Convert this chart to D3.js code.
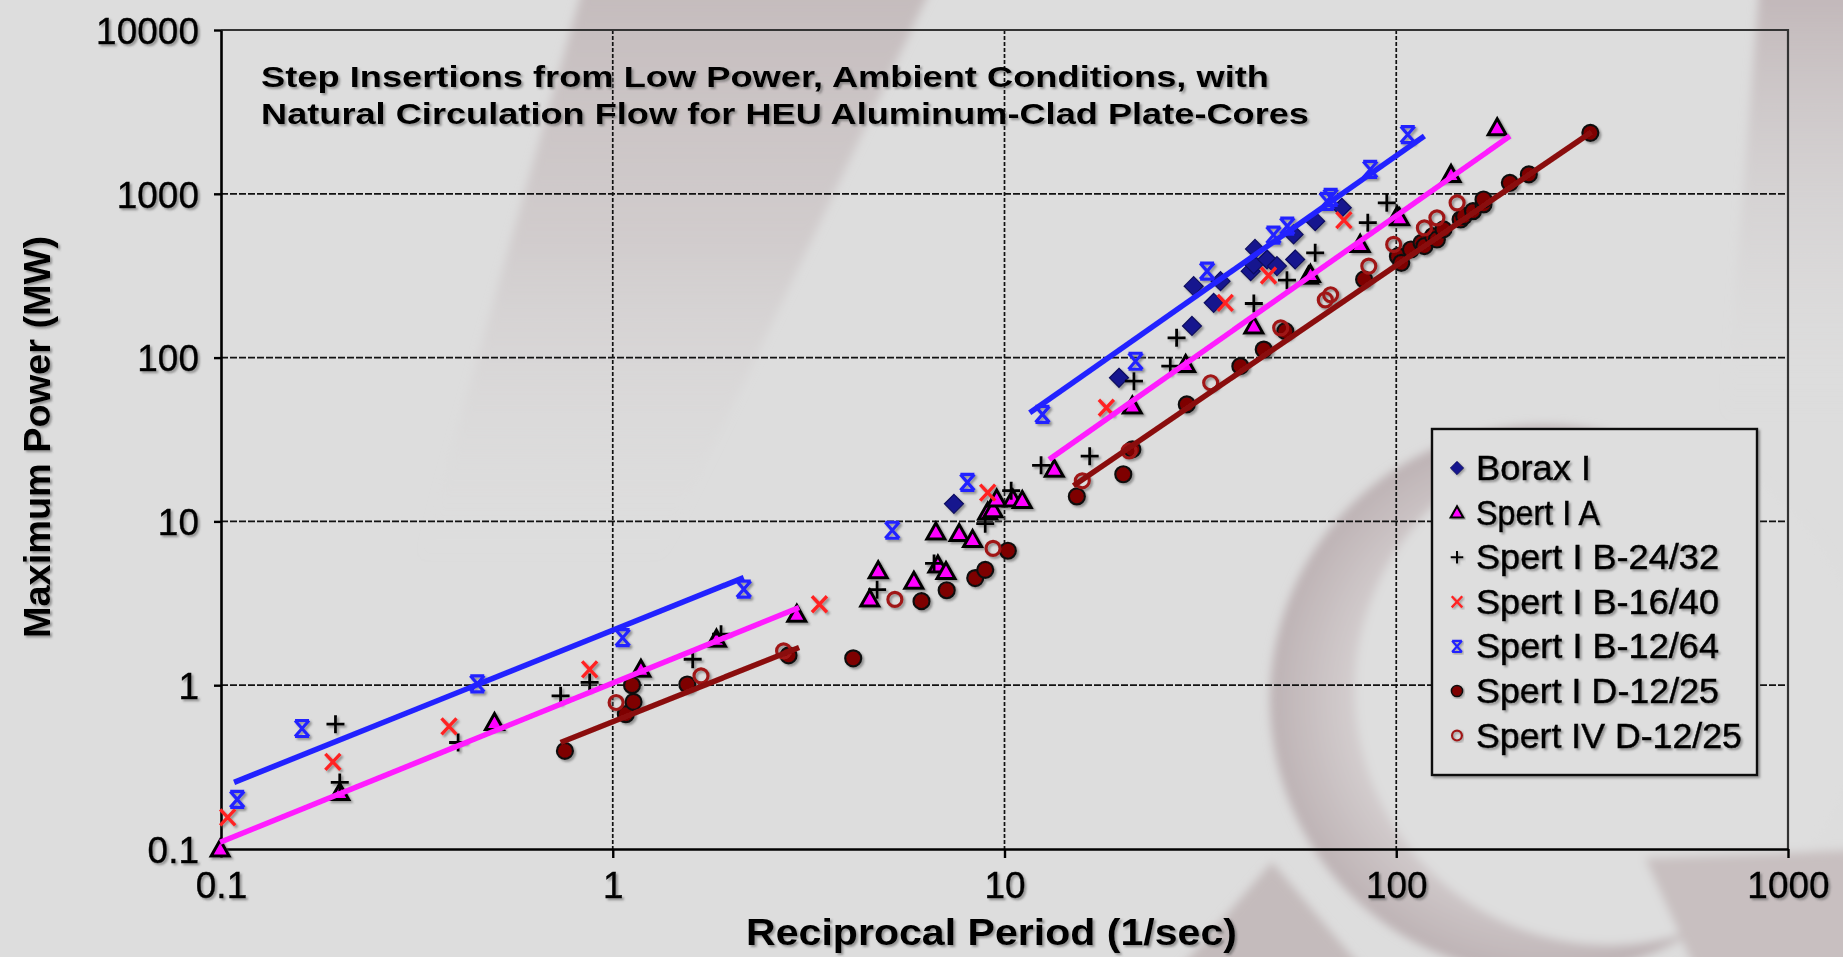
<!DOCTYPE html>
<html>
<head>
<meta charset="utf-8">
<script src="https://cdn.jsdelivr.net/npm/d3@7"></script>
<style>
html,body{margin:0;padding:0;background:#dddddd;overflow:hidden;}
svg{display:block;}
text{font-family:'Liberation Sans',Arial,sans-serif;}
</style>
</head>
<body>
<svg id="chart" width="1843" height="957"></svg>
<script>
// ---------------- data (reciprocal period 1/s, maximum power MW) ----------------
const xTicks = [0.1, 1, 10, 100, 1000];
const xTickLabels = ["0.1", "1", "10", "100", "1000"];
const yTicks = [0.1, 1, 10, 100, 1000, 10000];
const yTickLabels = ["0.1", "1", "10", "100", "1000", "10000"];

const seriesNames = ["Borax I", "Spert I A", "Spert I B-24/32", "Spert I B-16/40",
                     "Spert I B-12/64", "Spert I D-12/25", "Spert IV D-12/25"];

const boraxI = [[7.43,12.8],[19.6,75.3],[30.1,156],[34.2,216],[30.4,273],[35.6,293],[42.5,337],
  [43.3,371],[46.8,397],[49.6,362],[43.6,461],[55.2,397],[54.7,565],[62.1,681],[72.6,822]];

const spertIA = [[0.0995,0.1],[0.201,0.221],[0.499,0.592],[1.18,1.25],[1.84,1.91],[2.95,2.71],
  [4.76,4.99],[4.53,3.36],[5.87,4.31],[6.68,8.62],[6.76,5.42],[7.09,4.94],[7.66,8.43],[8.29,7.74],
  [9.06,11.4],[9.35,11.8],[9.55,13.7],[10.5,13.7],[11.1,13.4],[13.4,20.8],[21.2,50.6],[29.0,90.8],
  [43.3,156],[59.7,314],[60.4,322],[80.9,491],[100.6,731],[102,713],[138,1313],[181,2529]];

const spertIB2432 = [[0.196,0.578],[0.201,0.255],[0.403,0.447],[0.736,0.861],[0.873,1.04],[1.60,1.44],
  [1.89,2.05],[4.73,3.83],[6.61,5.54],[8.93,9.68],[10.4,15.4],[12.4,22.0],[16.5,25.0],[21.4,71.8],
  [26.5,88.7],[27.5,132],[43.3,214],[52.6,297],[62.1,436],[84.6,666],[94.6,881]];

const spertIB1640 = [[0.104,0.156],[0.193,0.34],[0.382,0.56],[0.873,1.25],[3.37,3.12],[9.06,15.0],
  [18.2,49.4],[36.6,216],[47.2,317],[73.5,690]];

const spertIB1264 = [[0.110,0.201],[0.161,0.544],[0.451,1.02],[1.06,1.95],[2.16,3.86],[5.17,8.83],
  [8.04,17.3],[12.5,45],[21.6,95],[32.9,337],[48.6,560],[52.7,635],[66.5,900],[68,950],[85.8,1408],[107,2300]];

const spertID1225 = [[0.755,0.397],[1.08,0.665],[1.13,0.791],[1.12,1.0],[1.55,1.01],[2.81,1.52],[4.11,1.46],
  [6.14,3.26],[7.12,3.80],[8.42,4.51],[8.93,5.06],[10.2,6.62],[15.3,14.2],[20.1,19.4],[21.2,27.5],
  [29.2,51.8],[40.0,88.7],[45.9,112],[52.1,145],[82.8,300],[101,416],[103,379],[109,457],[116,502],
  [118,479],[124,552],[127,526],[132,606],[146,697],[149,731],[157,783],[167,861],[167,923],[195,1167],
  [218,1313],[313,2355]];

const spertIVD1225 = [[1.02,0.784],[1.68,1.14],[2.73,1.62],[5.25,3.34],[9.35,6.84],[15.8,17.7],[20.8,26.9],
  [33.6,70.2],[50.7,152],[65.9,225],[68.0,242],[85.1,362],[98.5,491],[118,619],[127,713],[143,881]];

// fitted trend lines (two segments each)
const fitB1264 = [[[0.108,0.255],[2.16,4.54]], [[11.6,46],[118,2250]]];
const fitIA    = [[[0.0995,0.11],[2.99,2.98]], [[13.0,23.9],[195,2250]]];
const fitID    = [[[0.736,0.447],[2.99,1.70]], [[15.0,16.5],[315,2380]]];

// ---------------- setup ----------------
const svg = d3.select("#chart");
const W = 1843, H = 957;
const defs = svg.append("defs");

const sh = defs.append("filter").attr("id","shadow").attr("x","-20%").attr("y","-20%").attr("width","140%").attr("height","140%");
sh.append("feDropShadow").attr("dx",2).attr("dy",2).attr("stdDeviation",1.2)
  .attr("flood-color","#555").attr("flood-opacity",0.55);
const blur = defs.append("filter").attr("id","soft");
blur.append("feGaussianBlur").attr("stdDeviation",0.5);
const bgBlur = defs.append("filter").attr("id","bgblur").attr("x","-30%").attr("y","-30%").attr("width","160%").attr("height","160%");
bgBlur.append("feGaussianBlur").attr("stdDeviation",5);

// gradients for watermark
const g1 = defs.append("linearGradient").attr("id","band").attr("x1",0).attr("y1",0).attr("x2",0).attr("y2",1);
g1.append("stop").attr("offset","0%").attr("stop-color","#c4bbbc").attr("stop-opacity",1);
g1.append("stop").attr("offset","45%").attr("stop-color","#ccc5c6").attr("stop-opacity",0.7);
g1.append("stop").attr("offset","100%").attr("stop-color","#dddddd").attr("stop-opacity",0);
const g2 = defs.append("radialGradient").attr("id","ring").attr("cx","50%").attr("cy","50%").attr("r","50%");
g2.append("stop").attr("offset","70%").attr("stop-color","#d3cdce");
g2.append("stop").attr("offset","100%").attr("stop-color","#bdb2b4");
const g3 = defs.append("linearGradient").attr("id","rband").attr("x1",0).attr("y1",0).attr("x2",0).attr("y2",1);
g3.append("stop").attr("offset","0%").attr("stop-color","#c0b5b7");
g3.append("stop").attr("offset","100%").attr("stop-color","#dddddd").attr("stop-opacity",0);

// ---------------- background watermark ----------------
const bg = svg.append("g");
bg.append("rect").attr("width",W).attr("height",H).attr("fill","#dddddd");
const wm = bg.append("g").attr("filter","url(#bgblur)");
wm.append("path").attr("d","M585,-20 L935,-20 L660,560 L420,560 Z").attr("fill","url(#band)");
wm.append("path").attr("d","M1760,-20 L1860,-20 L1860,420 L1725,420 Z").attr("fill","url(#rband)");
wm.append("circle").attr("cx",1545).attr("cy",700).attr("r",275).attr("fill","url(#ring)");
wm.append("circle").attr("cx",1610).attr("cy",690).attr("r",255).attr("fill","#dedede");
wm.append("path").attr("d","M1272,862 L1372,980 L1170,980 Z").attr("fill","#c4bbbc");
wm.append("path").attr("d","M1645,858 L1860,850 L1860,980 L1700,980 Z").attr("fill","#c8bfc0");

// ---------------- scales ----------------
const x = d3.scaleLog().domain([0.1,1000]).range([221,1788]);
const y = d3.scaleLog().domain([0.1,10000]).range([849,30]);

// gridlines
const grid = svg.append("g").attr("stroke","#111").attr("stroke-width",1.7).attr("stroke-dasharray","7,2");
grid.selectAll("line.h").data(yTicks.slice(1,-1)).join("line")
  .attr("x1",x(0.1)).attr("x2",x(1000)).attr("y1",d=>y(d)).attr("y2",d=>y(d));
grid.selectAll("line.v").data(xTicks.slice(1,-1)).join("line")
  .attr("y1",y(10000)).attr("y2",y(0.1)).attr("x1",d=>x(d)).attr("x2",d=>x(d))
  .attr("stroke-dasharray","4,2");

// plot border (top/right)
svg.append("path").attr("d",`M${x(0.1)},${y(10000)} H${x(1000)} V${y(0.1)}`)
  .attr("fill","none").attr("stroke","#333").attr("stroke-width",2.2);

// axes
const fmtX = d => xTickLabels[xTicks.indexOf(d)];
const fmtY = d => yTickLabels[yTicks.indexOf(d)];
const ax = svg.append("g").attr("transform",`translate(0,${y(0.1)})`)
  .call(d3.axisBottom(x).tickValues(xTicks).tickFormat(fmtX).tickSize(9).tickSizeOuter(0).tickPadding(14));
const ay = svg.append("g").attr("transform",`translate(${x(0.1)},0)`)
  .call(d3.axisLeft(y).tickValues(yTicks).tickFormat(fmtY).tickSize(7).tickSizeOuter(0).tickPadding(15));
[ax, ay].forEach(a => {
  a.select(".domain").attr("stroke","#000").attr("stroke-width",2.6);
  a.selectAll(".tick line").attr("stroke","#000").attr("stroke-width",2.4);
  a.selectAll(".tick text").attr("font-size",37).attr("fill","#000")
    .attr("stroke","#000").attr("stroke-width",0.4)
    .attr("font-family","'Liberation Sans',Arial,sans-serif").attr("filter","url(#shadow)");
});
ax.selectAll(".tick text").attr("dy","0.71em");
ay.selectAll(".tick text").attr("dy","0.36em");

// ---------------- markers ----------------
const mk = {
  diamond: (g) => g.append("path").attr("d","M0,-9.5 L9.5,0 L0,9.5 L-9.5,0 Z").attr("fill","#16168e").attr("stroke","#0a0a60").attr("stroke-width",1.2),
  triangle: (g) => g.append("path").attr("d","M0,-9 L9,7 L-9,7 Z").attr("fill","#ff00ff").attr("stroke","#000").attr("stroke-width",3).attr("stroke-linejoin","miter"),
  plus: (g) => g.append("path").attr("d","M-9,0 H9 M0,-9 V9").attr("stroke","#000").attr("stroke-width",2.8),
  cross: (g) => g.append("path").attr("d","M-7.5,-8 L7.5,8 M-7.5,8 L7.5,-8").attr("stroke","#ff2424").attr("stroke-width",3.4),
  star: (g) => g.append("path").attr("d","M-7,-8 L7,8 M-7,8 L7,-8 M-7,-8 H7 M-7,8 H7").attr("stroke","#2323ff").attr("stroke-width",3.2),
  dot: (g) => g.append("circle").attr("r",8).attr("fill","#7e0000").attr("stroke","#111").attr("stroke-width",2.2),
  ring: (g) => g.append("circle").attr("r",7).attr("fill","none").attr("stroke","#a01818").attr("stroke-width",3.2)
};
const series = [
  {data: boraxI, m: "diamond"},
  {data: spertIA, m: "triangle"},
  {data: spertIB2432, m: "plus"},
  {data: spertIB1640, m: "cross"},
  {data: spertIB1264, m: "star"},
  {data: spertID1225, m: "dot"},
  {data: spertIVD1225, m: "ring"}
];
const pts = svg.append("g").attr("filter","url(#shadow)");
series.forEach(s => {
  pts.append("g").selectAll("g").data(s.data).join("g")
    .attr("transform", d => `translate(${x(d[0])},${y(d[1])})`)
    .each(function(){ mk[s.m](d3.select(this)); });
});

// ---------------- trend lines ----------------
const line = d3.line().x(d=>x(d[0])).y(d=>y(d[1]));
const fits = [{segs: fitB1264, c: "#2222ff"}, {segs: fitIA, c: "#ff1aff"}, {segs: fitID, c: "#8a0c0c"}];
const fl = svg.append("g").attr("filter","url(#soft)");
fits.forEach(f => f.segs.forEach(sg => {
  fl.append("path").attr("d", line(sg)).attr("fill","none").attr("stroke",f.c).attr("stroke-width",5.5).attr("stroke-linecap","butt");
}));

// ---------------- legend ----------------
const lg = svg.append("g");
lg.append("rect").attr("x",1432).attr("y",429).attr("width",325).attr("height",346)
  .attr("fill","#dedede").attr("stroke","#111").attr("stroke-width",2.4).attr("filter","url(#shadow)");
const legendMarks = ["diamond","triangle","plus","cross","star","dot","ring"];
const legendW = [115, 124, 243, 243, 243, 243, 266];
seriesNames.forEach((nm,i) => {
  const cy = 468 + i*44.6;
  const gm = lg.append("g").attr("transform",`translate(1457,${cy}) scale(0.7)`).attr("filter","url(#shadow)");
  mk[legendMarks[i]](gm);
  lg.append("text").attr("x",1476).attr("y",cy+12).attr("font-size",35).attr("fill","#000")
    .attr("stroke","#000").attr("stroke-width",0.5)
    .attr("textLength",legendW[i]).attr("lengthAdjust","spacingAndGlyphs")
    .attr("filter","url(#shadow)").text(nm);
});

// ---------------- titles ----------------
const tt = svg.append("g").attr("filter","url(#shadow)").attr("fill","#000").attr("font-weight","bold");
tt.append("text").attr("x",261).attr("y",87).attr("font-size",30)
  .attr("textLength",1008).attr("lengthAdjust","spacingAndGlyphs")
  .text("Step Insertions from Low Power, Ambient Conditions, with");
tt.append("text").attr("x",261).attr("y",124).attr("font-size",30)
  .attr("textLength",1048).attr("lengthAdjust","spacingAndGlyphs")
  .text("Natural Circulation Flow for HEU Aluminum-Clad Plate-Cores");
tt.append("text").attr("x",746).attr("y",945).attr("font-size",36)
  .attr("textLength",491).attr("lengthAdjust","spacingAndGlyphs")
  .text("Reciprocal Period (1/sec)");
tt.append("text").attr("transform","translate(50,638) rotate(-90)").attr("font-size",36)
  .attr("textLength",402).attr("lengthAdjust","spacingAndGlyphs")
  .text("Maximum Power (MW)");
</script>
</body>
</html>
